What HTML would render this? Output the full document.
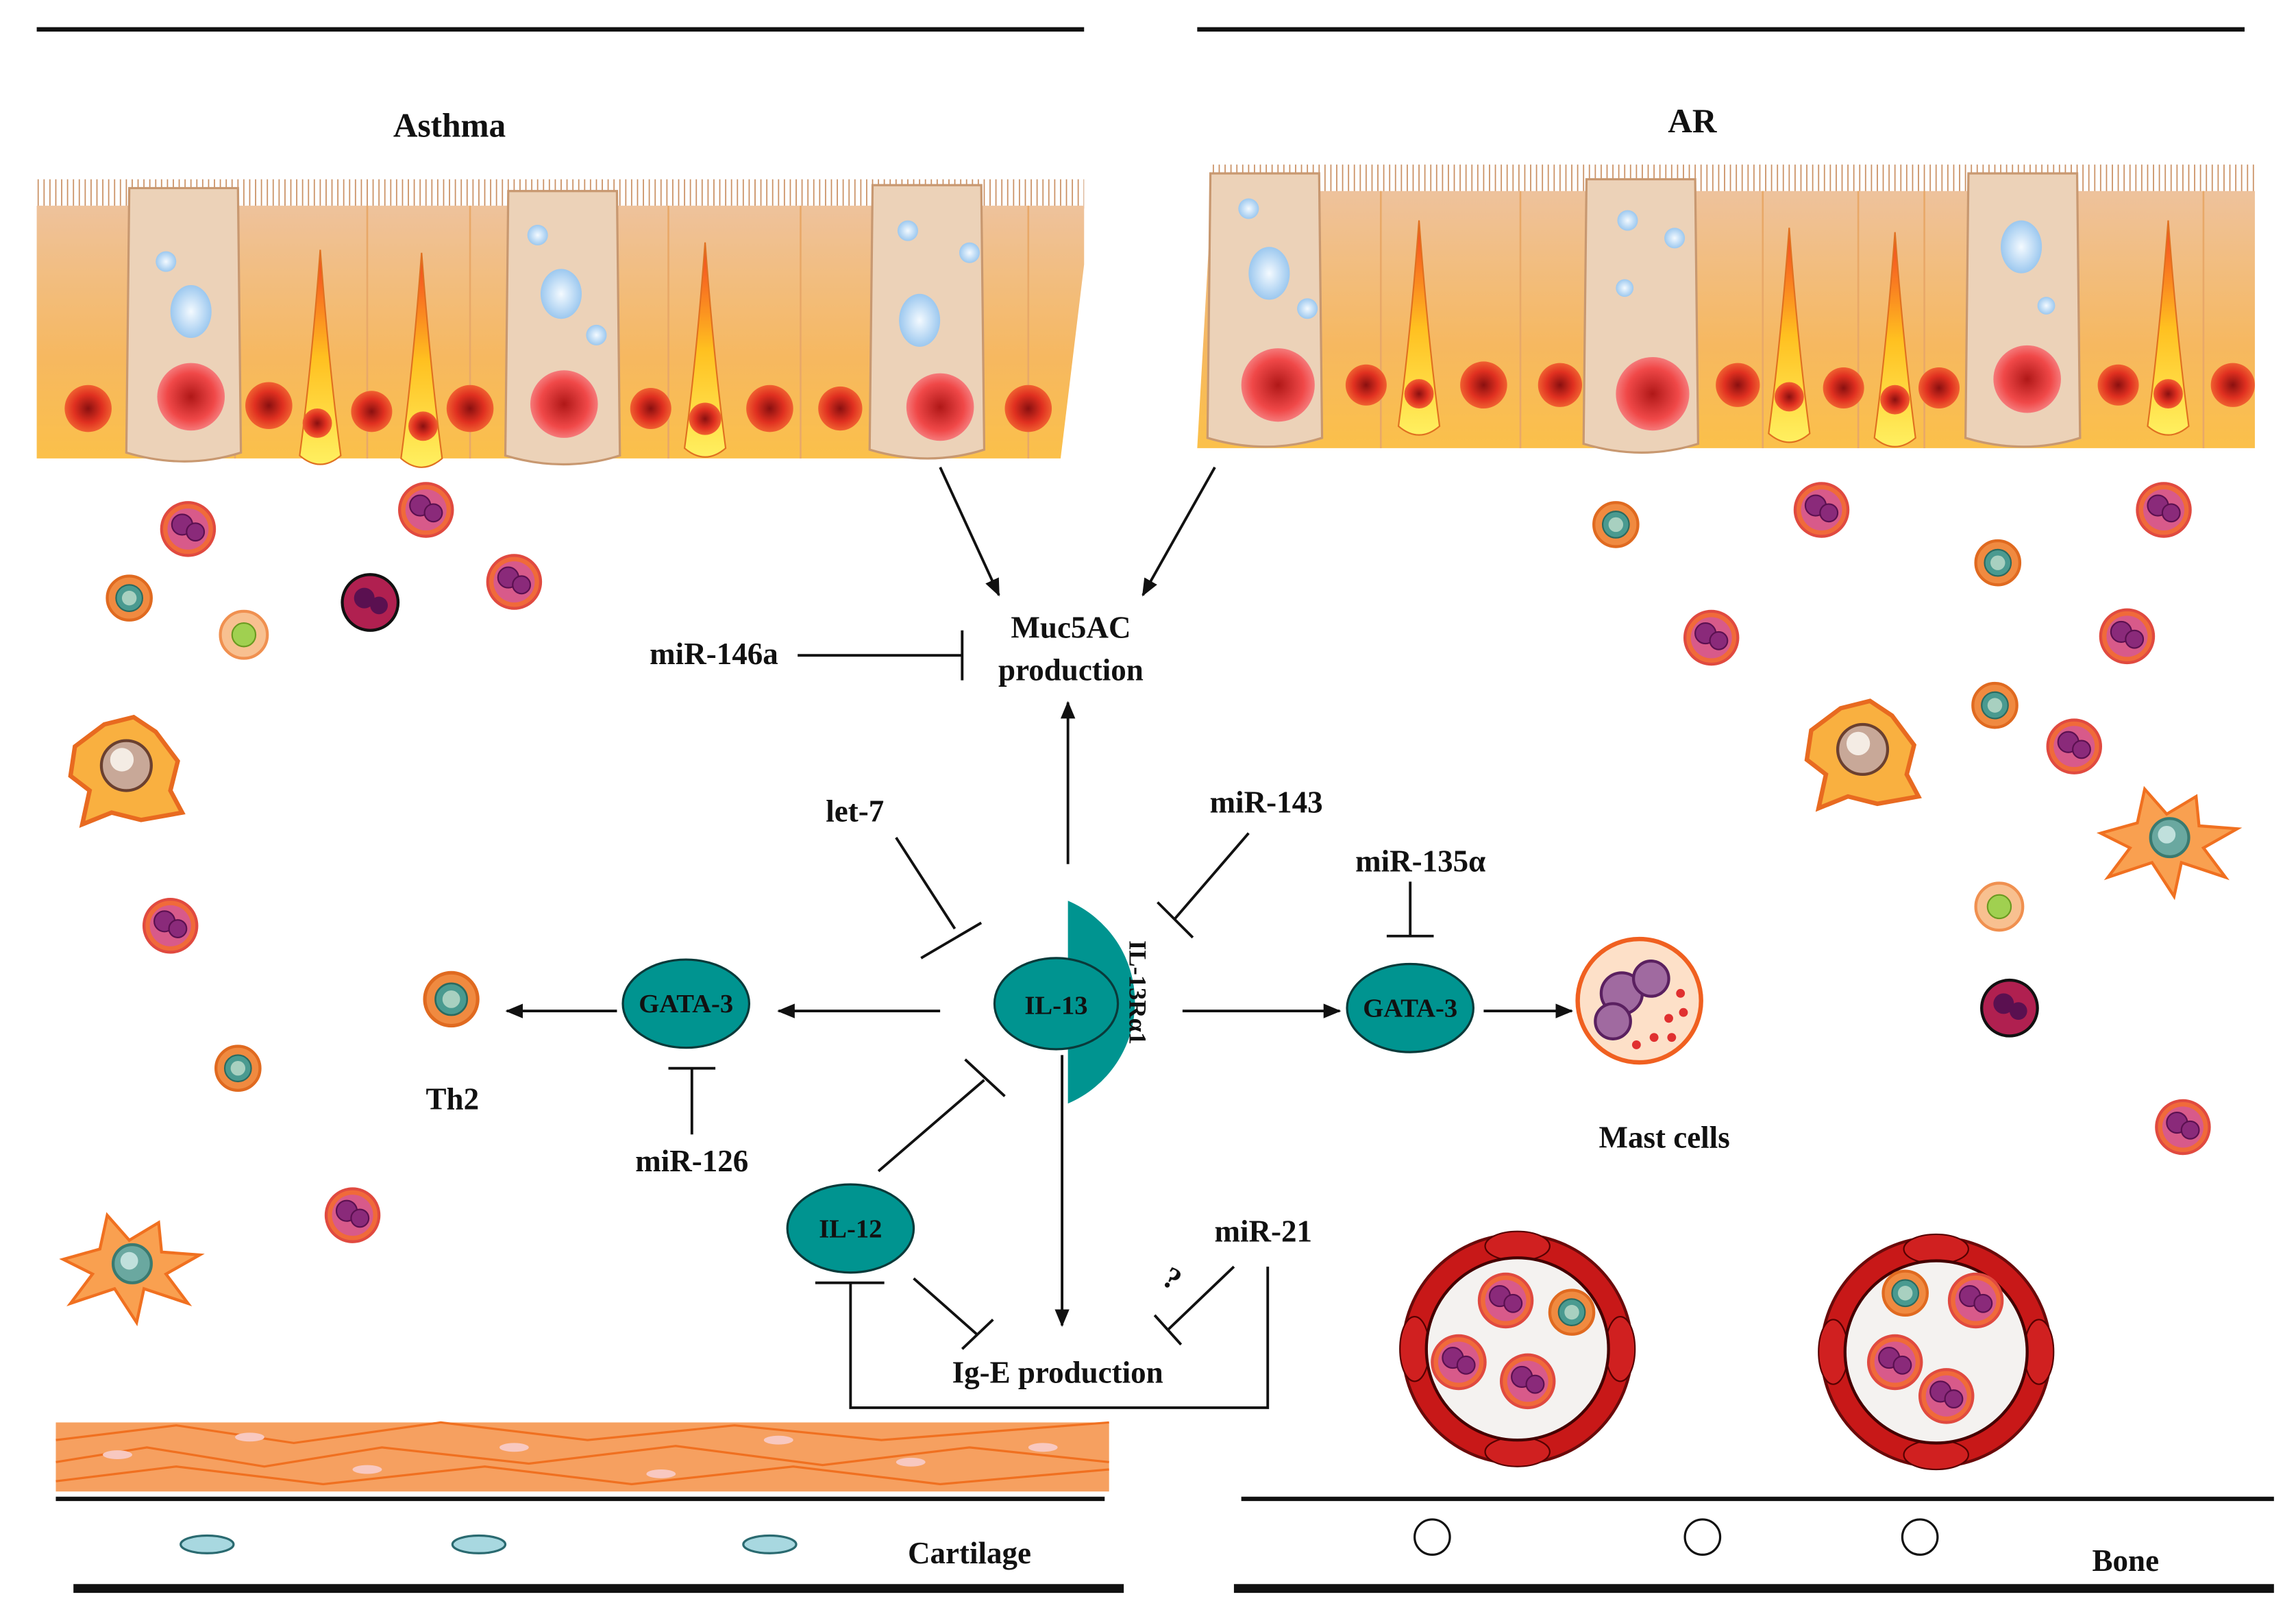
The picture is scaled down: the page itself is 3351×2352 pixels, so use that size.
<!DOCTYPE html>
<html><head><meta charset="utf-8"><style>html,body{margin:0;padding:0;background:#fff}svg{display:block}
text{font-family:"Liberation Serif",serif;font-weight:bold;fill:#111}</style></head><body>
<svg width="3351" height="2352" viewBox="0 0 1563 1097" preserveAspectRatio="none" xmlns="http://www.w3.org/2000/svg">
<defs>
<linearGradient id="epi" x1="0" y1="0" x2="0" y2="1"><stop offset="0" stop-color="#eec29c"/><stop offset="0.6" stop-color="#f6b860"/><stop offset="1" stop-color="#fbc04a"/></linearGradient>
<radialGradient id="nuc"><stop offset="0" stop-color="#8a1010"/><stop offset="0.6" stop-color="#e03020"/><stop offset="1" stop-color="#f06030"/></radialGradient>
<radialGradient id="gnuc"><stop offset="0" stop-color="#b01818"/><stop offset="0.7" stop-color="#f04848"/><stop offset="1" stop-color="#f57a7a"/></radialGradient>
<linearGradient id="flame" x1="0" y1="0" x2="0" y2="1"><stop offset="0" stop-color="#f44020"/><stop offset="0.5" stop-color="#ffc020"/><stop offset="1" stop-color="#fff060"/></linearGradient>
<pattern id="cil" width="4" height="20" patternUnits="userSpaceOnUse"><line x1="2" y1="0" x2="2" y2="20" stroke="#c98e60" stroke-width="0.8"/></pattern>
<radialGradient id="vac"><stop offset="0" stop-color="#f4faff"/><stop offset="1" stop-color="#9cc8ef"/></radialGradient>
<g id="eos"><circle r="18" fill="#f06a3a" stroke="#e04a40" stroke-width="2"/><circle r="14" fill="#d85a8a"/><circle cx="-4" cy="-3" r="7" fill="#8a2a7a" stroke="#5a1050"/><circle cx="5" cy="2" r="6" fill="#8a2a7a" stroke="#5a1050"/></g>
<g id="lym"><circle r="15" fill="#f08a40" stroke="#e06a20" stroke-width="2"/><circle r="9" fill="#4a9a90" stroke="#2a6a60"/><circle r="5" fill="#a8d0c0"/></g>
<g id="lymg"><circle r="16" fill="#f8c090" stroke="#f09050" stroke-width="2"/><circle r="8" fill="#a0d050" stroke="#6a9a20"/></g>
<g id="dark"><circle r="19" fill="#b02050" stroke="#111" stroke-width="2"/><circle cx="-4" cy="-3" r="7" fill="#5a1050"/><circle cx="6" cy="2" r="6" fill="#5a1050"/></g>
<g id="mac"><path d="M-35,-15 L-15,-30 L5,-35 L20,-25 L35,-5 L30,15 L38,30 L10,35 L-10,30 L-30,38 L-25,15 L-38,5 Z" fill="#f9b040" stroke="#e86a20" stroke-width="3"/><circle cx="0" cy="-2" r="17" fill="#c8a898" stroke="#6a4030" stroke-width="2"/><circle cx="-3" cy="-6" r="8" fill="#f4ece4"/></g>
<g id="den"><path d="M-45,-5 L-20,-12 L-15,-35 L0,-18 L20,-30 L22,-10 L48,-8 L25,5 L40,25 L10,15 L5,38 L-10,15 L-40,25 L-25,5 Z" fill="#f9a050" stroke="#f07020" stroke-width="2"/><circle cx="2" cy="-2" r="13" fill="#6aa8a0" stroke="#3a7a70" stroke-width="2"/><circle cx="0" cy="-4" r="6" fill="#c0e0dc"/></g>
<g id="mast"><circle r="42" fill="#fde0c8" stroke="#f06020" stroke-width="3"/><circle cx="-12" cy="-5" r="14" fill="#a06aa0" stroke="#5a2060" stroke-width="2"/><circle cx="8" cy="-15" r="12" fill="#a06aa0" stroke="#5a2060" stroke-width="2"/><circle cx="-18" cy="14" r="12" fill="#a06aa0" stroke="#5a2060" stroke-width="2"/><circle cx="20" cy="12" r="3" fill="#e03030"/><circle cx="28" cy="-5" r="3" fill="#e03030"/><circle cx="10" cy="25" r="3" fill="#e03030"/><circle cx="-2" cy="30" r="3" fill="#e03030"/><circle cx="22" cy="25" r="3" fill="#e03030"/><circle cx="30" cy="8" r="3" fill="#e03030"/></g>
<g id="ves"><circle r="78" fill="#c81818" stroke="#6a0a0a" stroke-width="2"/><ellipse cx="0" cy="-70" rx="22" ry="10" fill="#d02020" stroke="#500" /><ellipse cx="0" cy="70" rx="22" ry="10" fill="#d02020" stroke="#500"/><ellipse cx="-70" cy="0" rx="10" ry="22" fill="#d02020" stroke="#500"/><ellipse cx="70" cy="0" rx="10" ry="22" fill="#d02020" stroke="#500"/><circle r="62" fill="#f4f2f0" stroke="#400" stroke-width="2"/></g>
<g id="gob"><path d="M0,0 L74,0 L76,180 Q38,192 -2,180 Z" fill="#ecd2b8" stroke="#c89870" stroke-width="1.5"/></g>
<g id="fl"><path d="M0,0 Q-6,80 -14,140 Q0,152 14,140 Q6,80 0,0 Z" fill="url(#flame)" stroke="#e07020"/></g>
<marker id="ar" markerWidth="12" markerHeight="10" refX="11" refY="5" orient="auto" markerUnits="userSpaceOnUse"><path d="M0,0 L12,5 L0,10 Z" fill="#111"/></marker>
</defs>
<rect width="1563" height="1097" fill="#fff"/>
<line x1="25" y1="20" x2="738" y2="20" stroke="#111" stroke-width="3"/>
<line x1="815" y1="20" x2="1528" y2="20" stroke="#111" stroke-width="3"/>
<text x="306" y="93" font-size="23" text-anchor="middle">Asthma</text>
<text x="1152" y="90" font-size="23" text-anchor="middle">AR</text>

<rect x="25" y="122" width="713" height="20" fill="url(#cil)"/>
<path d="M25,140 L738,140 L738,180 L722,312 L25,312 Z" fill="url(#epi)"/>
<g stroke="#e8a868" stroke-width="1.2"><line x1="160" y1="140" x2="160" y2="312"/><line x1="250" y1="140" x2="250" y2="312"/><line x1="320" y1="140" x2="320" y2="312"/><line x1="455" y1="140" x2="455" y2="312"/><line x1="545" y1="140" x2="545" y2="312"/><line x1="700" y1="140" x2="700" y2="312"/></g>
<use href="#gob" x="88" y="128"/><use href="#gob" x="346" y="130"/><use href="#gob" x="594" y="126"/>
<use href="#fl" x="218" y="170"/><use href="#fl" x="287" y="172"/><use href="#fl" x="480" y="165"/>
<g fill="url(#nuc)"><circle cx="60" cy="278" r="16"/><circle cx="183" cy="276" r="16"/><circle cx="253" cy="280" r="14"/><circle cx="320" cy="278" r="16"/><circle cx="443" cy="278" r="14"/><circle cx="524" cy="278" r="16"/><circle cx="572" cy="278" r="15"/><circle cx="700" cy="278" r="16"/><circle cx="216" cy="288" r="10"/><circle cx="288" cy="290" r="10"/><circle cx="480" cy="285" r="11"/></g>
<g fill="url(#gnuc)"><circle cx="130" cy="270" r="23"/><circle cx="384" cy="275" r="23"/><circle cx="640" cy="277" r="23"/></g>
<g fill="url(#vac)"><ellipse cx="130" cy="212" rx="14" ry="18"/><circle cx="113" cy="178" r="7"/><ellipse cx="382" cy="200" rx="14" ry="17"/><circle cx="366" cy="160" r="7"/><circle cx="406" cy="228" r="7"/><ellipse cx="626" cy="218" rx="14" ry="18"/><circle cx="618" cy="157" r="7"/><circle cx="660" cy="172" r="7"/></g>
<rect x="825" y="112" width="710" height="20" fill="url(#cil)"/>
<path d="M825,130 L1535,130 L1535,305 L815,305 Z" fill="url(#epi)"/>
<g stroke="#e8a868" stroke-width="1.2"><line x1="940" y1="130" x2="940" y2="305"/><line x1="1035" y1="130" x2="1035" y2="305"/><line x1="1200" y1="130" x2="1200" y2="305"/><line x1="1265" y1="130" x2="1265" y2="305"/><line x1="1310" y1="130" x2="1310" y2="305"/><line x1="1500" y1="130" x2="1500" y2="305"/></g>
<use href="#gob" x="824" y="118"/><use href="#gob" x="1080" y="122"/><use href="#gob" x="1340" y="118"/>
<use href="#fl" x="966" y="150"/><use href="#fl" x="1218" y="155"/><use href="#fl" x="1290" y="158"/><use href="#fl" x="1476" y="150"/>
<g fill="url(#nuc)"><circle cx="930" cy="262" r="14"/><circle cx="1010" cy="262" r="16"/><circle cx="1062" cy="262" r="15"/><circle cx="1183" cy="262" r="15"/><circle cx="1255" cy="264" r="14"/><circle cx="1320" cy="264" r="14"/><circle cx="1442" cy="262" r="14"/><circle cx="1520" cy="262" r="15"/><circle cx="966" cy="268" r="10"/><circle cx="1218" cy="270" r="10"/><circle cx="1290" cy="272" r="10"/><circle cx="1476" cy="268" r="10"/></g>
<g fill="url(#gnuc)"><circle cx="870" cy="262" r="25"/><circle cx="1125" cy="268" r="25"/><circle cx="1380" cy="258" r="23"/></g>
<g fill="url(#vac)"><ellipse cx="864" cy="186" rx="14" ry="18"/><circle cx="850" cy="142" r="7"/><circle cx="890" cy="210" r="7"/><circle cx="1108" cy="150" r="7"/><circle cx="1140" cy="162" r="7"/><circle cx="1106" cy="196" r="6"/><ellipse cx="1376" cy="168" rx="14" ry="18"/><circle cx="1393" cy="208" r="6"/></g>

<use href="#eos" x="128" y="360"/><use href="#eos" x="290" y="347"/><use href="#eos" x="350" y="396"/><use href="#lym" x="88" y="407"/><use href="#lymg" x="166" y="432"/><use href="#dark" x="252" y="410"/>
<use href="#mac" x="86" y="523"/><use href="#eos" x="116" y="630"/><use href="#lym" x="162" y="727"/><use href="#eos" x="240" y="827"/><use href="#den" x="88" y="862"/>
<use href="#lym" x="1100" y="357"/><use href="#eos" x="1240" y="347"/><use href="#eos" x="1473" y="347"/><use href="#lym" x="1360" y="383"/><use href="#eos" x="1165" y="434"/><use href="#eos" x="1448" y="433"/><use href="#lym" x="1358" y="480"/><use href="#eos" x="1412" y="508"/><use href="#mac" x="1268" y="512"/><use href="#den" x="1475" y="572"/><use href="#lymg" x="1361" y="617"/><use href="#dark" x="1368" y="686"/><use href="#eos" x="1486" y="767"/>
<use href="#ves" x="1033" y="918"/><use href="#ves" x="1318" y="920"/>
<use href="#eos" x="1025" y="885"/><use href="#lym" x="1070" y="893"/><use href="#eos" x="993" y="927"/><use href="#eos" x="1040" y="940"/>
<use href="#lym" x="1297" y="880"/><use href="#eos" x="1345" y="885"/><use href="#eos" x="1290" y="927"/><use href="#eos" x="1325" y="950"/>

<g stroke="#111" stroke-width="1.8" fill="none">
<line x1="640" y1="318" x2="680" y2="405" marker-end="url(#ar)"/>
<line x1="827" y1="318" x2="778" y2="405" marker-end="url(#ar)"/>
<line x1="543" y1="446" x2="655" y2="446"/><line x1="655" y1="429" x2="655" y2="463"/>
<line x1="727" y1="588" x2="727" y2="478" marker-end="url(#ar)"/>
<line x1="610" y1="570" x2="650" y2="632"/><line x1="627" y1="652" x2="668" y2="628"/>
<line x1="850" y1="567" x2="800" y2="625"/><line x1="788" y1="614" x2="812" y2="638"/>
<line x1="960" y1="600" x2="960" y2="637"/><line x1="944" y1="637" x2="976" y2="637"/>
<line x1="640" y1="688" x2="530" y2="688" marker-end="url(#ar)"/>
<line x1="420" y1="688" x2="345" y2="688" marker-end="url(#ar)"/>
<line x1="471" y1="772" x2="471" y2="727"/><line x1="455" y1="727" x2="487" y2="727"/>
<line x1="805" y1="688" x2="912" y2="688" marker-end="url(#ar)"/>
<line x1="1010" y1="688" x2="1070" y2="688" marker-end="url(#ar)"/>
<line x1="598" y1="797" x2="670" y2="735"/><line x1="657" y1="721" x2="684" y2="746"/>
<line x1="723" y1="718" x2="723" y2="902" marker-end="url(#ar)"/>
<line x1="622" y1="870" x2="665" y2="908"/><line x1="655" y1="918" x2="676" y2="898"/>
<line x1="555" y1="873" x2="602" y2="873"/><polyline points="579,873 579,958 863,958 863,862"/>
<line x1="840" y1="862" x2="795" y2="905"/><line x1="786" y1="895" x2="804" y2="915"/>
</g>
<text x="729" y="434" font-size="21" text-anchor="middle">Muc5AC</text>
<text x="729" y="463" font-size="21" text-anchor="middle">production</text>
<text x="486" y="452" font-size="21" text-anchor="middle">miR-146a</text>
<text x="582" y="559" font-size="21" text-anchor="middle">let-7</text>
<text x="862" y="553" font-size="21" text-anchor="middle">miR-143</text>
<text x="967" y="593" font-size="21" text-anchor="middle">miR-135α</text>
<text x="308" y="755" font-size="21" text-anchor="middle">Th2</text>
<text x="471" y="797" font-size="21" text-anchor="middle">miR-126</text>
<text x="1133" y="781" font-size="21" text-anchor="middle">Mast cells</text>
<text x="720" y="941" font-size="21" text-anchor="middle">Ig-E production</text>
<text x="860" y="845" font-size="21" text-anchor="middle">miR-21</text>
<text x="798" y="877" font-size="21" text-anchor="middle" transform="rotate(30 798 870)">?</text>
<path d="M727,613 A75,75 0 0 1 727,751 Z" fill="#009490"/>
<text x="0" y="0" font-size="17" transform="translate(769,640) rotate(90)">IL-13Rα1</text>
<g fill="#009490" stroke="#0a3a3a" stroke-width="1.5">
<ellipse cx="719" cy="683" rx="42" ry="31"/><ellipse cx="467" cy="683" rx="43" ry="30"/><ellipse cx="960" cy="686" rx="43" ry="30"/><ellipse cx="579" cy="836" rx="43" ry="30"/></g>
<g font-size="18" text-anchor="middle"><text x="719" y="690">IL-13</text><text x="467" y="689">GATA-3</text><text x="960" y="692">GATA-3</text><text x="579" y="842">IL-12</text></g>
<use href="#lym" x="311" y="685" transform="translate(-66 -142) scale(1.2)"/>
<use href="#mast" x="1116" y="681"/>

<g>
<rect x="38" y="968" width="717" height="47" fill="#f6a060"/>
<g stroke="#f07020" stroke-width="1.5" fill="none">
<path d="M38,980 L120,970 L200,982 L300,968 L400,980 L500,970 L600,980 L755,968"/>
<path d="M38,995 L100,985 L180,998 L260,985 L360,996 L460,984 L560,997 L660,985 L755,995"/>
<path d="M38,1008 L120,998 L220,1010 L330,998 L430,1010 L540,998 L640,1010 L755,1000"/>
</g>
<g fill="#f8c8c0"><ellipse cx="80" cy="990" rx="10" ry="3"/><ellipse cx="170" cy="978" rx="10" ry="3"/><ellipse cx="250" cy="1000" rx="10" ry="3"/><ellipse cx="350" cy="985" rx="10" ry="3"/><ellipse cx="450" cy="1003" rx="10" ry="3"/><ellipse cx="530" cy="980" rx="10" ry="3"/><ellipse cx="620" cy="995" rx="10" ry="3"/><ellipse cx="710" cy="985" rx="10" ry="3"/></g>
</g>
<line x1="38" y1="1020" x2="752" y2="1020" stroke="#111" stroke-width="3"/>
<g fill="#a8d8e0" stroke="#2a6a70" stroke-width="1.5"><ellipse cx="141" cy="1051" rx="18" ry="6"/><ellipse cx="326" cy="1051" rx="18" ry="6"/><ellipse cx="524" cy="1051" rx="18" ry="6"/></g>
<text x="660" y="1064" font-size="21" text-anchor="middle">Cartilage</text>
<line x1="50" y1="1081" x2="765" y2="1081" stroke="#111" stroke-width="6"/>
<line x1="845" y1="1020" x2="1548" y2="1020" stroke="#111" stroke-width="3"/>
<g fill="#fff" stroke="#111" stroke-width="1.5"><circle cx="975" cy="1046" r="12"/><circle cx="1159" cy="1046" r="12"/><circle cx="1307" cy="1046" r="12"/></g>
<text x="1447" y="1069" font-size="21" text-anchor="middle">Bone</text>
<line x1="840" y1="1081" x2="1548" y2="1081" stroke="#111" stroke-width="6"/>
</svg>
</body></html>
